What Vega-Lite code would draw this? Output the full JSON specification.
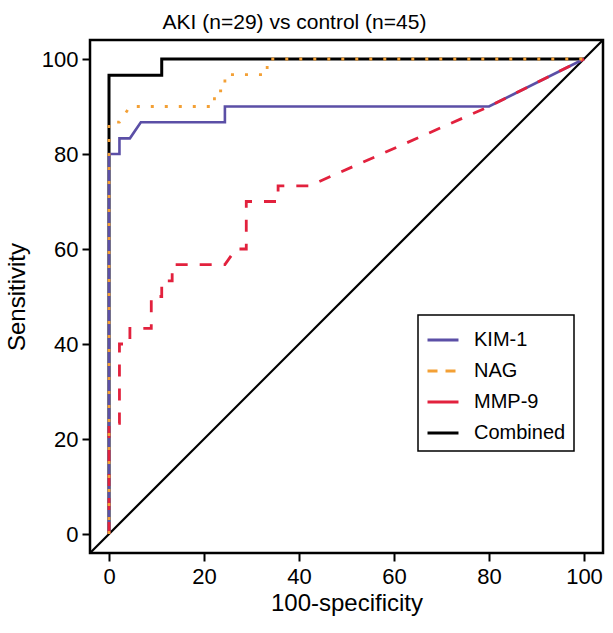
{
  "$schema": "https://vega.github.io/schema/vega-lite/v6.json",
  "width": 513,
  "height": 513,
  "autosize": {"type": "none"},
  "padding": {"left": 90, "top": 40, "right": 10, "bottom": 80},
  "background": "white",
  "config": {
    "font": "Liberation Sans",
    "view": {"stroke": "black", "strokeWidth": 2.5},
    "axis": {
      "domain": false, "grid": false,
      "tickColor": "black", "tickWidth": 2, "tickSize": 8,
      "labelFontSize": 22, "labelColor": "black", "labelFont": "Liberation Sans",
      "titleFontSize": 24, "titleColor": "black", "titleFontWeight": "normal", "titleFont": "Liberation Sans"
    }
  },
  "title": {
    "text": "AKI (n=29) vs control (n=45)",
    "fontSize": 21, "fontWeight": "normal", "color": "black", "font": "Liberation Sans",
    "anchor": "middle", "offset": 7, "dx": -52
  },
  "datasets": {
    "curves": [
      {"marker": "KIM-1", "i": 1, "x": 0, "y": 0},
      {"marker": "KIM-1", "i": 2, "x": 0, "y": 80},
      {"marker": "KIM-1", "i": 3, "x": 2.2, "y": 80},
      {"marker": "KIM-1", "i": 4, "x": 2.2, "y": 83.3},
      {"marker": "KIM-1", "i": 5, "x": 4.4, "y": 83.3},
      {"marker": "KIM-1", "i": 6, "x": 6.7, "y": 86.7},
      {"marker": "KIM-1", "i": 7, "x": 24.4, "y": 86.7},
      {"marker": "KIM-1", "i": 8, "x": 24.4, "y": 90},
      {"marker": "KIM-1", "i": 9, "x": 80, "y": 90},
      {"marker": "KIM-1", "i": 10, "x": 100, "y": 100},
      {"marker": "NAG", "i": 1, "x": 0, "y": 0},
      {"marker": "NAG", "i": 2, "x": 0, "y": 86.7},
      {"marker": "NAG", "i": 3, "x": 2.2, "y": 86.7},
      {"marker": "NAG", "i": 4, "x": 4.4, "y": 90},
      {"marker": "NAG", "i": 5, "x": 22.2, "y": 90},
      {"marker": "NAG", "i": 6, "x": 22.2, "y": 93.3},
      {"marker": "NAG", "i": 7, "x": 24.4, "y": 93.3},
      {"marker": "NAG", "i": 8, "x": 24.4, "y": 96.7},
      {"marker": "NAG", "i": 9, "x": 33.3, "y": 96.7},
      {"marker": "NAG", "i": 10, "x": 33.3, "y": 100},
      {"marker": "NAG", "i": 11, "x": 100, "y": 100},
      {"marker": "MMP-9", "i": 1, "x": 0, "y": 0},
      {"marker": "MMP-9", "i": 2, "x": 0, "y": 23.3},
      {"marker": "MMP-9", "i": 3, "x": 2.2, "y": 23.3},
      {"marker": "MMP-9", "i": 4, "x": 2.2, "y": 40},
      {"marker": "MMP-9", "i": 5, "x": 4.4, "y": 40},
      {"marker": "MMP-9", "i": 6, "x": 4.4, "y": 43.3},
      {"marker": "MMP-9", "i": 7, "x": 8.9, "y": 43.3},
      {"marker": "MMP-9", "i": 8, "x": 8.9, "y": 50},
      {"marker": "MMP-9", "i": 9, "x": 11.1, "y": 50},
      {"marker": "MMP-9", "i": 10, "x": 11.1, "y": 53.3},
      {"marker": "MMP-9", "i": 11, "x": 13.3, "y": 53.3},
      {"marker": "MMP-9", "i": 12, "x": 13.3, "y": 56.7},
      {"marker": "MMP-9", "i": 13, "x": 24.4, "y": 56.7},
      {"marker": "MMP-9", "i": 14, "x": 26.7, "y": 60},
      {"marker": "MMP-9", "i": 15, "x": 28.9, "y": 60},
      {"marker": "MMP-9", "i": 16, "x": 28.9, "y": 70},
      {"marker": "MMP-9", "i": 17, "x": 35.6, "y": 70},
      {"marker": "MMP-9", "i": 18, "x": 35.6, "y": 73.3},
      {"marker": "MMP-9", "i": 19, "x": 42.2, "y": 73.3},
      {"marker": "MMP-9", "i": 20, "x": 80, "y": 90},
      {"marker": "MMP-9", "i": 21, "x": 100, "y": 100},
      {"marker": "Combined", "i": 1, "x": 0, "y": 0},
      {"marker": "Combined", "i": 2, "x": 0, "y": 96.6},
      {"marker": "Combined", "i": 3, "x": 11.1, "y": 96.6},
      {"marker": "Combined", "i": 4, "x": 11.1, "y": 100},
      {"marker": "Combined", "i": 5, "x": 100, "y": 100}
    ],
    "diag": [
      {"x": -4, "y": -4},
      {"x": 104, "y": 104}
    ]
  },
  "encoding": {
    "x": {"field": "x", "type": "quantitative", "scale": {"domain": [-4, 104], "nice": false, "zero": false},
          "axis": {"values": [0, 20, 40, 60, 80, 100], "title": "100-specificity", "labelPadding": 5, "titlePadding": 4}},
    "y": {"field": "y", "type": "quantitative", "scale": {"domain": [-4, 104], "nice": false, "zero": false},
          "axis": {"values": [0, 20, 40, 60, 80, 100], "title": "Sensitivity", "labelPadding": 4, "titlePadding": 12}}
  },
  "layer": [
    {
      "data": {"name": "diag"},
      "mark": {"type": "line", "color": "black", "strokeWidth": 2.2, "clip": true}
    },
    {
      "data": {"name": "curves"},
      "transform": [{"filter": "datum.marker === 'Combined'"}],
      "mark": {"type": "line", "strokeWidth": 3, "clip": true},
      "encoding": {
        "order": {"field": "i", "type": "quantitative"},
        "color": {
          "field": "marker", "type": "nominal",
          "scale": {"domain": ["KIM-1", "NAG", "MMP-9", "Combined"], "range": ["#5b4fa6", "#f3a035", "#e2213d", "#000000"]},
          "legend": {
            "title": null, "orient": "none", "legendX": 328, "legendY": 275,
            "strokeColor": "black", "fillColor": "white",
            "padding": 8, "rowPadding": 4,
            "symbolType": "stroke", "symbolSize": 960, "symbolStrokeWidth": 3,
            "labelFontSize": 20, "labelColor": "black", "labelFont": "Liberation Sans", "labelOffset": 14,
            "encode": {
              "legend": {"update": {"strokeWidth": {"value": 1.5}}},
              "symbols": {"update": {"strokeDash": {"signal": "datum.value === 'NAG' ? [10, 8] : [1, 0]"}}}
            }
          }
        }
      }
    },
    {
      "data": {"name": "curves"},
      "transform": [{"filter": "datum.marker === 'KIM-1'"}],
      "mark": {"type": "line", "strokeWidth": 2.6, "clip": true},
      "encoding": {
        "order": {"field": "i", "type": "quantitative"},
        "color": {"field": "marker", "type": "nominal"}
      }
    },
    {
      "data": {"name": "curves"},
      "transform": [{"filter": "datum.marker === 'MMP-9'"}],
      "mark": {"type": "line", "strokeWidth": 2.8, "strokeDash": [12, 12], "clip": true},
      "encoding": {
        "order": {"field": "i", "type": "quantitative"},
        "color": {"field": "marker", "type": "nominal"}
      }
    },
    {
      "data": {"name": "curves"},
      "transform": [{"filter": "datum.marker === 'NAG'"}],
      "mark": {"type": "line", "strokeWidth": 2.8, "strokeDash": [3, 11], "clip": true},
      "encoding": {
        "order": {"field": "i", "type": "quantitative"},
        "color": {"field": "marker", "type": "nominal"}
      }
    }
  ]
}
